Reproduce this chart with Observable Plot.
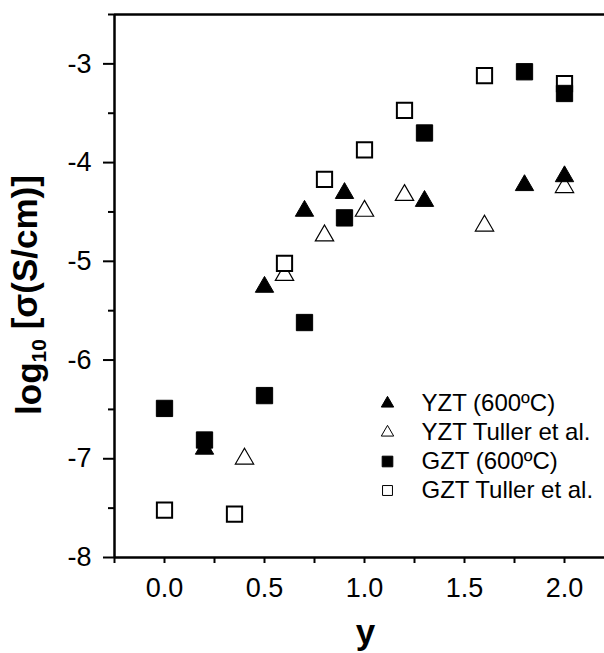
<!DOCTYPE html>
<html>
<head>
<meta charset="utf-8">
<script src="https://cdn.jsdelivr.net/npm/d3@7"></script>
<script src="https://cdn.jsdelivr.net/npm/@observablehq/plot@0.6"></script>
<style>
  html, body { margin: 0; padding: 0; background: #fff; }
  #chart svg { display: block; }
</style>
</head>
<body>
<div id="chart"></div>
<script>
// ---- data ----
const yzt600X = [0.2, 0.5, 0.7, 0.9, 1.3, 1.8, 2.0];
const yzt600Y = [-6.9, -5.26, -4.49, -4.31, -4.39, -4.23, -4.14];

const yztTullerX = [0.4, 0.6, 0.8, 1.0, 1.2, 1.6, 2.0];
const yztTullerY = [-7.0, -5.14, -4.74, -4.49, -4.33, -4.64, -4.25];

const gzt600X = [0.0, 0.2, 0.5, 0.7, 0.9, 1.3, 1.8, 2.0];
const gzt600Y = [-6.49, -6.81, -6.36, -5.62, -4.56, -3.70, -3.08, -3.30];

const gztTullerX = [0.0, 0.35, 0.6, 0.8, 1.0, 1.2, 1.6, 2.0];
const gztTullerY = [-7.52, -7.56, -5.02, -4.17, -3.87, -3.47, -3.12, -3.20];

const seriesNames = ["YZT (600ºC)", "YZT Tuller et al.", "GZT (600ºC)", "GZT Tuller et al."];

const xMajorTicks = [0.0, 0.5, 1.0, 1.5, 2.0];
const xMinorTicks = [-0.25, 0.25, 0.75, 1.25, 1.75];
const yMajorTicks = [-8, -7, -6, -5, -4, -3];
const yMinorTicks = [-7.5, -6.5, -5.5, -4.5, -3.5, -2.5];

const xDomain = [-0.25, 2.2];
const yDomain = [-8, -2.5];

// ---- build tables ----
const zip = (xs, ys) => xs.map((x, i) => ({x, y: ys[i]}));
const yzt600 = zip(yzt600X, yzt600Y);
const yztTuller = zip(yztTullerX, yztTullerY);
const gzt600 = zip(gzt600X, gzt600Y);
const gztTuller = zip(gztTullerX, gztTullerY);

const FONT = "Liberation Sans, Arial, Helvetica, sans-serif";
const TICK_FONT = 27;

const styles = [
  {symbol: "triangle", fill: "black", stroke: "black", strokeWidth: 1, r: 6.8, lr: 4.6, lsw: 1},
  {symbol: "triangle", fill: "white", stroke: "black", strokeWidth: 1.2, r: 6.8, lr: 4.6, lsw: 1},
  {symbol: "square", fill: "black", stroke: "black", strokeWidth: 1, r: 9.2, lr: 6.0, lsw: 1},
  {symbol: "square", fill: "white", stroke: "black", strokeWidth: 2, r: 8.6, lr: 5.6, lsw: 1}
];

const legendRows = [403, 432, 461, 490];
const marginLeft = 114, marginTop = 14;

const legendMarks = seriesNames.flatMap((name, i) => {
  const s = styles[i];
  return [
    Plot.dot([name], {frameAnchor: "top-left", dx: 387 - marginLeft, dy: legendRows[i] - marginTop,
      symbol: s.symbol, r: s.lr, fill: s.fill, stroke: s.stroke, strokeWidth: s.lsw}),
    Plot.text([name], {frameAnchor: "top-left", dx: 421 - marginLeft, dy: legendRows[i] - marginTop,
      text: d => d, textAnchor: "start", lineAnchor: "middle", fontSize: 24, fill: "black", fontFamily: FONT})
  ];
});

const seriesDot = (data, s) => Plot.dot(data, {x: "x", y: "y", symbol: s.symbol, r: s.r,
  fill: s.fill, stroke: s.stroke, strokeWidth: s.strokeWidth});

const chart = Plot.plot({
  width: 604,
  height: 653,
  marginLeft: marginLeft,
  marginRight: 0,
  marginTop: marginTop,
  marginBottom: 96,
  style: {fontFamily: FONT, background: "white", color: "black"},
  x: {domain: xDomain},
  y: {domain: yDomain},
  marks: [
    // minor ticks
    Plot.axisX({ticks: xMinorTicks, tickSize: 6, tickFormat: () => "", strokeWidth: 2, label: null}),
    Plot.axisY({ticks: yMinorTicks, tickSize: 6, tickFormat: () => "", strokeWidth: 2, label: null}),
    // major ticks
    Plot.axisX({ticks: xMajorTicks, tickSize: 6, tickPadding: 14, tickFormat: d3.format(".1f"),
      strokeWidth: 2, fontSize: TICK_FONT, label: null}),
    Plot.axisY({ticks: yMajorTicks, tickSize: 11, tickPadding: 12, tickFormat: d => String(d),
      strokeWidth: 2, fontSize: TICK_FONT, label: null}),
    // axis frame lines
    Plot.ruleX([xDomain[0]], {stroke: "black", strokeWidth: 2.5}),
    Plot.ruleY([yDomain[0]], {stroke: "black", strokeWidth: 2.5}),
    Plot.ruleY([yDomain[1]], {stroke: "black", strokeWidth: 2.5}),
    // series (drawing order as in reference)
    seriesDot(yztTuller, styles[1]),
    seriesDot(gztTuller, styles[3]),
    seriesDot(yzt600, styles[0]),
    seriesDot(gzt600, styles[2]),
    // legend
    ...legendMarks,
    // axis titles
    Plot.text(["y"], {frameAnchor: "bottom", dx: 6, dy: 86, text: d => d, fontSize: 35, fontWeight: "bold",
      lineAnchor: "bottom", fill: "black", fontFamily: FONT}),
    Plot.text(["ylabel"], {frameAnchor: "left", dx: 40 - marginLeft, dy: 9, rotate: -90, text: d => d,
      textAnchor: "middle", lineAnchor: "bottom", fontSize: 35, fontWeight: "bold", fill: "black",
      fontFamily: FONT, className: "ylabel"})
  ]
});

document.getElementById("chart").appendChild(chart);

// make sure tick labels get the larger font
d3.select(chart).selectAll('g[aria-label="x-axis tick label"], g[aria-label="y-axis tick label"]')
  .attr("font-size", TICK_FONT)
  .selectAll("text").attr("font-size", TICK_FONT);

// rich y-axis title with subscript
const yl = d3.select(chart).select(".ylabel text");
yl.text(null);
yl.append("tspan").text("log");
yl.append("tspan").attr("font-size", "21").attr("dy", "0.25em").text("10");
yl.append("tspan").attr("dy", "-0.25em").text(" [σ(S/cm)]");
</script>
</body>
</html>
